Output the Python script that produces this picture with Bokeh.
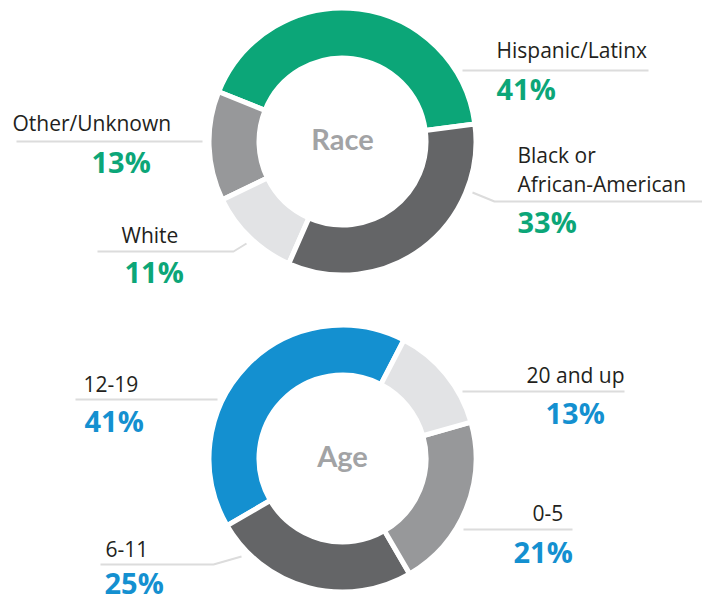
import math
from bokeh.plotting import figure
from bokeh.models import Range1d
from bokeh.core.properties import value
from bokeh.embed import file_html
from bokeh.resources import INLINE

# ---------------- data ----------------
race_labels = ["Hispanic/Latinx", "Other/Unknown", "White", "Black or\nAfrican-American"]
race_values = [41, 13, 11, 33]
age_labels = ["12-19", "6-11", "0-5", "20 and up"]
age_values = [41, 25, 21, 13]

# ---------------- style ----------------
GREEN = "#0CA678"
BLUE = "#1490D0"
DARK = "#646567"
MID = "#97989A"
LIGHT = "#E2E3E5"
race_colors = [GREEN, MID, LIGHT, DARK]
age_colors = [BLUE, DARK, MID, LIGHT]
LABEL_C = "#231F20"
TITLE_C = "#A2A3A5"
LEADER_C = "#DCDCDC"
LFONT = "Open Sans"
TFONT = "Lato"
LSIZE = 21
PSIZE = 29

W, H = 702, 601
p = figure(width=W, height=H, output_backend="svg", toolbar_location=None,
           x_range=Range1d(0, W), y_range=Range1d(0, H), min_border=0)
p.axis.visible = False
p.grid.visible = False
p.outline_line_color = None
p.background_fill_color = "white"


def Y(sy):
    return H - sy


def donut(cx, cy, vals, colors, start_deg):
    total = float(sum(vals))
    starts, ends = [], []
    a = math.radians(start_deg)
    for v in vals:
        span = 2 * math.pi * v / total
        starts.append(a)
        ends.append(a + span)
        a += span
    p.annular_wedge(x=[cx] * len(vals), y=[Y(cy)] * len(vals), inner_radius=83.5, outer_radius=133.5,
                    start_angle=starts, end_angle=ends, direction="anticlock",
                    fill_color=colors, line_color="white", line_width=5)


donut(342, 141, race_values, race_colors, 7.5)
donut(342, 458, age_values, age_colors, 62.6)

# center titles
p.text(x=[342, 342], y=[Y(138), Y(455)], text=["Race", "Age"], text_align="center",
       text_baseline="middle", text_font=value(TFONT), text_font_style="bold",
       text_font_size="29px", text_color=TITLE_C)

# leader lines (screen coordinates)
leaders = [
    [(462, 70), (648, 70)],
    [(472, 192), (494, 201), (702, 201)],
    [(16, 141), (202, 141)],
    [(97, 251), (233, 251), (246, 243)],
    [(75, 399), (217, 399)],
    [(100, 564), (213, 564), (241, 556)],
    [(462, 391), (624, 391)],
    [(463, 529), (572, 529)],
]
p.multi_line(xs=[[pt[0] for pt in l] for l in leaders], ys=[[Y(pt[1]) for pt in l] for l in leaders],
             line_color=LEADER_C, line_width=2)

# label positions: (label_x, label_baseline, pct_x, pct_baseline)
race_pos = [(496, 58, 496, 100), (12, 131, 91, 173), (121, 243, 124, 283), (517, 163, 517, 233)]
age_pos = [(83, 392, 84, 432), (105, 557, 104, 594), (532, 521, 513, 563), (526, 383, 545, 424)]

L_OFF = 0.42 * LSIZE
P_OFF = 0.42 * PSIZE


def labels(names, vals, pos, color):
    lx, ly, px, py, txt, pct = [], [], [], [], [], []
    for n, v, (a, b, c, d) in zip(names, vals, pos):
        lines = n.split("\n")
        for i, ln in enumerate(lines):
            lx.append(a)
            ly.append(Y(b + 29 * i - L_OFF))
            txt.append(ln)
        px.append(c)
        py.append(Y(d - P_OFF))
        pct.append(f"{v}%")
    p.text(x=lx, y=ly, text=txt, text_align="left", text_baseline="alphabetic",
           text_font=value(LFONT), text_font_size=f"{LSIZE}px", text_color=LABEL_C)
    p.text(x=px, y=py, text=pct, text_align="left", text_baseline="alphabetic",
           text_font=value(LFONT), text_font_style="bold", text_font_size=f"{PSIZE}px", text_color=color)


labels(race_labels, race_values, race_pos, GREEN)
labels(age_labels, age_values, age_pos, BLUE)

open("out.html", "w").write(file_html(p, INLINE))
